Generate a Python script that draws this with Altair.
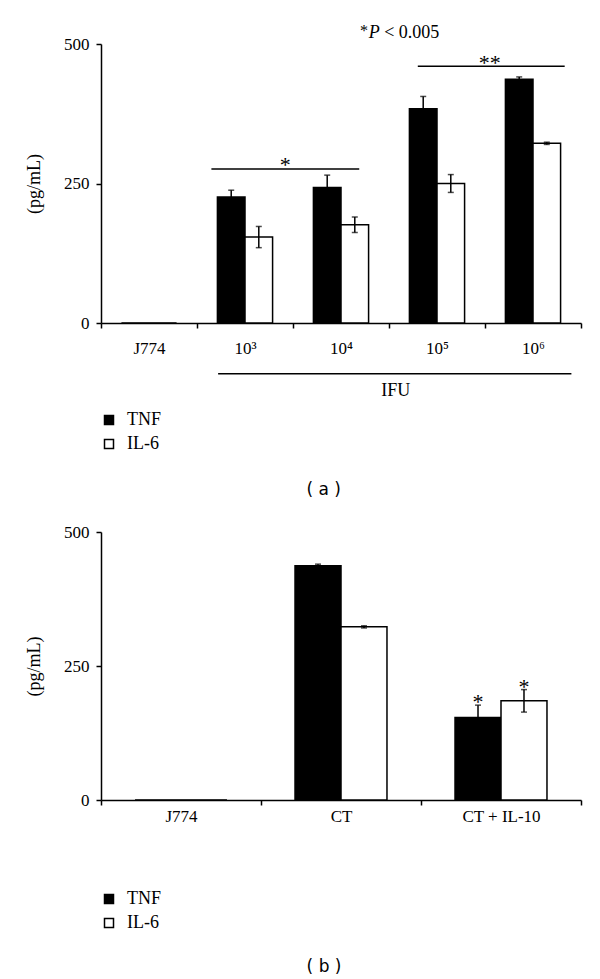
import altair as alt
import pandas as pd

series = ["TNF", "IL-6"]

# Panel (a)
cats_a = ["J774", "10³", "10⁴", "10⁵", "10⁶"]
tnf_a = [0, 226, 243, 384, 437]
tnf_a_err = [0, 12, 22, 22, 4]
il6_a = [0, 154, 176, 250, 322]
il6_a_err = [0, 19, 14, 16, 2]

# Panel (b)
cats_b = ["J774", "CT", "CT + IL-10"]
tnf_b = [0, 437, 154]
tnf_b_err = [0, 3, 23]
il6_b = [0, 323, 185]
il6_b_err = [0, 2, 21]
sig_b_tnf = ["", "", "*"]
sig_b_il6 = ["", "", "*"]

# Annotations of panel (a), in category-index units (x) and pg/mL (y)
sig_text_a = ["*", "**"]
sig_x1_a = [1.15, 3.30]
sig_x2_a = [2.69, 4.83]
sig_y_a = [276, 460]
sig_tx_a = [1.92, 4.05]
sig_ty_a = [271, 453]
ifu_x1, ifu_x2, ifu_y = 1.22, 4.90, -91
ifu_tx, ifu_ty = 3.07, -131
pnote_y = 511
pnote_parts = ["*", "P", "< 0.005"]
pnote_x = [2.74, 2.79, 2.95]
cap_a = ("( a )", 2.32, -308)
cap_b = ("( b )", 1.394, -320)

SERIF = "Liberation Serif"


def bars_df(cats, tnf, tnf_err, il6, il6_err, sig_t=None, sig_i=None):
    rows = []
    for i, c in enumerate(cats):
        rows.append(dict(cat=c, series="TNF", value=tnf[i], err=tnf_err[i],
                         sig=(sig_t[i] if sig_t else "")))
        rows.append(dict(cat=c, series="IL-6", value=il6[i], err=il6_err[i],
                         sig=(sig_i[i] if sig_i else "")))
    df = pd.DataFrame(rows)
    df["lo"] = df["value"] - df["err"]
    df["hi"] = df["value"] + df["err"]
    return df


def panel(df, cats, height, label_pad, legend_y, n_idx, annot_layers):
    xaxis = alt.Axis(title=None, tickBand="extent", labelAngle=0,
                     labelPadding=label_pad, tickSize=5)
    yaxis = alt.Axis(values=[0, 250, 500], title="(pg/mL)", tickSize=5,
                     labelPadding=7, titlePadding=20)
    xscale = alt.Scale(domain=cats, paddingInner=0, paddingOuter=0)
    yscale = alt.Scale(domain=[0, 500], nice=False, zero=True)

    def X():
        return alt.X("cat:N", sort=cats, scale=xscale, axis=xaxis)

    def Y(f):
        return alt.Y(f, scale=yscale, axis=yaxis)

    xo = alt.XOffset("series:N", sort=series,
                     scale=alt.Scale(domain=series, paddingInner=0, paddingOuter=0.74))
    bars = alt.Chart(df).mark_bar(stroke="black", strokeWidth=1.5).encode(
        x=X(), xOffset=xo, y=Y("value:Q"),
        fill=alt.Fill("series:N", sort=series,
                      scale=alt.Scale(domain=series, range=["black", "white"]),
                      legend=alt.Legend(title=None, orient="none", legendX=-1,
                                        legendY=legend_y, symbolType="square",
                                        symbolSize=81, symbolStrokeColor="black",
                                        symbolStrokeWidth=1.5, padding=0,
                                        rowPadding=6, labelOffset=9,
                                        labelFont=SERIF, labelFontSize=18,
                                        labelColor="black")))
    edf = df[df["err"] > 0]
    err = alt.Chart(edf).mark_rule(color="black", strokeWidth=1.5).encode(
        x=X(), xOffset=xo, y=Y("lo:Q"), y2="hi:Q")
    cap_hi = alt.Chart(edf).mark_tick(color="black", thickness=1.5, size=6).encode(
        x=X(), xOffset=xo, y=Y("hi:Q"))
    cap_lo = alt.Chart(edf).mark_tick(color="black", thickness=1.5, size=6).encode(
        x=X(), xOffset=xo, y=Y("lo:Q"))
    sdf = df[df["sig"] != ""]
    layers = [bars, err, cap_hi, cap_lo]
    if len(sdf):
        stars = alt.Chart(sdf).mark_text(font=SERIF, fontSize=22, color="black",
                                         baseline="alphabetic", dy=4).encode(
            x=X(), xOffset=xo, y=Y("hi:Q"), text="sig:N")
        layers.append(stars)
    base = alt.layer(*layers)

    xi_scale = alt.Scale(domain=[0, n_idx], nice=False, zero=False)
    ann = []
    for kind, adf, props in annot_layers:
        if kind == "rule":
            ann.append(alt.Chart(adf).mark_rule(color="black", strokeWidth=1.5).encode(
                x=alt.X("x1:Q", scale=xi_scale, axis=None), x2="x2:Q",
                y=Y("y:Q")))
        else:
            ann.append(alt.Chart(adf).mark_text(color="black", baseline="alphabetic",
                                                **props).encode(
                x=alt.X("x1:Q", scale=xi_scale, axis=None),
                y=Y("y:Q"),
                text="t:N"))
    annot = alt.layer(*ann)
    return alt.layer(base, annot).resolve_scale(x="independent").properties(
        width=480, height=height)


df_a = bars_df(cats_a, tnf_a, tnf_a_err, il6_a, il6_a_err)
df_b = bars_df(cats_b, tnf_b, tnf_b_err, il6_b, il6_b_err, sig_b_tnf, sig_b_il6)

ann_a = [
    ("rule", pd.DataFrame(dict(x1=sig_x1_a + [ifu_x1], x2=sig_x2_a + [ifu_x2],
                               y=sig_y_a + [ifu_y])), {}),
    ("text", pd.DataFrame(dict(x1=sig_tx_a, y=sig_ty_a, t=sig_text_a)),
     dict(font=SERIF, fontSize=22, align="center")),
    ("text", pd.DataFrame(dict(x1=[ifu_tx], y=[ifu_ty], t=["IFU"])),
     dict(font=SERIF, fontSize=18, align="center")),
    ("text", pd.DataFrame(dict(x1=[pnote_x[0]], y=[pnote_y + 3], t=[pnote_parts[0]])),
     dict(font=SERIF, fontSize=16, align="center")),
    ("text", pd.DataFrame(dict(x1=[pnote_x[1]], y=[pnote_y], t=[pnote_parts[1]])),
     dict(font=SERIF, fontSize=18, align="left", fontStyle="italic")),
    ("text", pd.DataFrame(dict(x1=[pnote_x[2]], y=[pnote_y], t=[pnote_parts[2]])),
     dict(font=SERIF, fontSize=18, align="left")),
    ("text", pd.DataFrame(dict(x1=[cap_a[1]], y=[cap_a[2]], t=[cap_a[0]])),
     dict(font="DejaVu Sans", fontSize=17, align="center")),
]
ann_b = [
    ("text", pd.DataFrame(dict(x1=[cap_b[1]], y=[cap_b[2]], t=[cap_b[0]])),
     dict(font="DejaVu Sans", fontSize=17, align="center")),
]

top = panel(df_a, cats_a, 279, 12, 367, 5, ann_a)
bottom = panel(df_b, cats_b, 268, 3, 358, 3, ann_b)

chart = alt.vconcat(top, bottom, spacing=23).resolve_scale(
    x="independent", y="independent", fill="independent", xOffset="independent"
).resolve_legend(fill="independent").properties(
    padding={"left": 17, "top": 14, "right": 5, "bottom": 5},
    background="white"
).configure_view(stroke="transparent").configure_axis(
    domainColor="black", tickColor="black", labelColor="black", titleColor="black",
    domainWidth=1.5, tickWidth=1.5, grid=False,
    labelFont=SERIF, labelFontSize=17, titleFont=SERIF, titleFontSize=18,
    titleFontWeight="normal"
)

chart.save("out.html", embed_options={"renderer": "svg", "actions": False})
